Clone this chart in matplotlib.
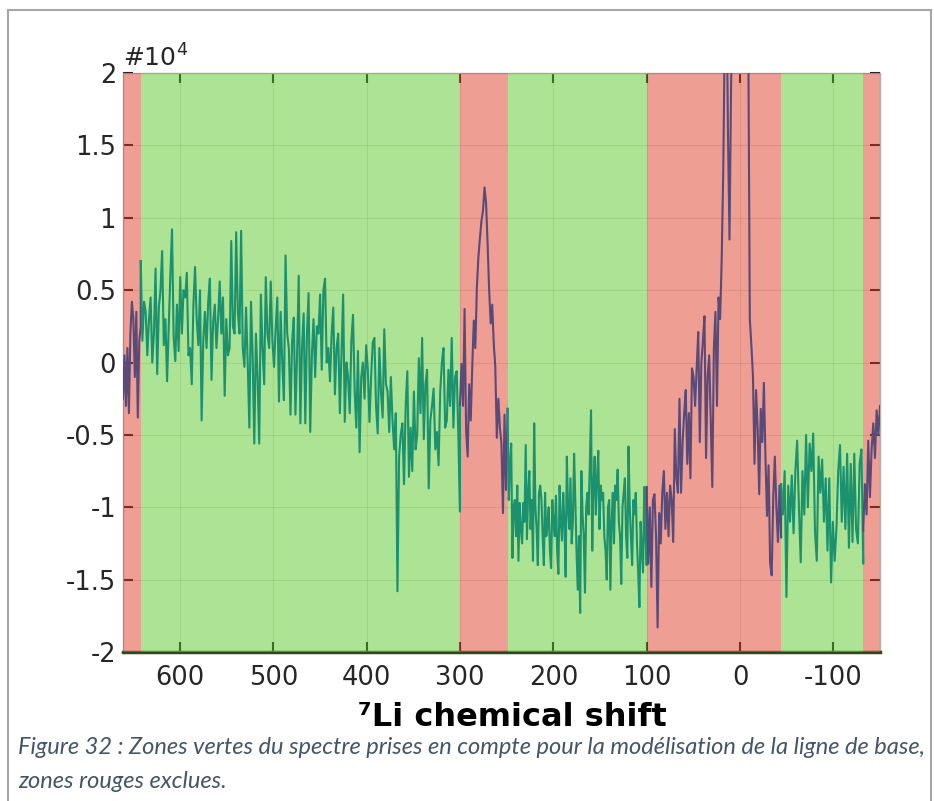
#!/usr/bin/env python3
"""
7Li NMR spectrum with baseline zones (green kept, red excluded)
"""
import numpy as np
import matplotlib
matplotlib.use("Agg")
import matplotlib.pyplot as plt
from matplotlib.patches import Rectangle

plt.rcParams['axes.unicode_minus'] = False

# zone limits (ppm) and their kind
zone_edges = [661, 642, 300, 249, 100, -44, -132, -150]
zone_kinds = ['red', 'green', 'red', 'green', 'red', 'green', 'red']

# intensity (x 10^4) read per zone, evenly spaced inside each zone
seg_a = [-0.25, 0.05, -0.3, 0.1, -0.35, 0.2, 0.42, 0.3, -0.1, 0.35, -0.38, 0.15, 0.25]
seg_b = [0.70, 0.15, 0.42, 0.35, 0.05, 0.3, 0.45, 0.0, 0.2, 0.65, -0.08, 0.38, 0.5, 0.77, 0.12,
         0.3, -0.13, 0.25, 0.6, 0.92, 0.18, 0.01, 0.4, 0.08, 0.59, 0.2, 0.5, 0.45, 0.62, 0.05,
         0.1, -0.15, 0.4, 0.66, 0.3, 0.12, 0.5, -0.4, 0.15, 0.35, 0.1, 0.42, 0.58, -0.12, 0.28,
         0.4, 0.1, 0.3, 0.56, 0.2, 0.45, -0.23, 0.3, 0.05, 0.1, 0.84, 0.25, 0.2, 0.9, 0.35,
         0.2, 0.91, 0.1, -0.03, 0.38, 0.0, -0.45, 0.42, 0.05, -0.56, 0.2, -0.1, -0.56, 0.47, 0.1,
         -0.15, 0.59, 0.2, 0.1, 0.56, 0.15, -0.03, 0.24, 0.45, -0.27, 0.35, 0.0, -0.26, 0.74, 0.2,
         0.1, -0.36, 0.15, 0.31, -0.36, 0.05, 0.6, -0.42, 0.1, 0.34, -0.42, 0.2, 0.48, -0.48, 0.05,
         0.3, -0.1, 0.25, 0.2, 0.47, -0.05, 0.5, 0.58, 0.0, 0.1, -0.13, 0.2, 0.38, -0.22, 0.1,
         0.2, -0.35, 0.05, 0.47, -0.41, 0.0, -0.1, -0.35, 0.15, 0.33, -0.2, -0.45, 0.08, -0.62, -0.1,
         0.0, -0.25, 0.12, -0.05, -0.41, -0.1, 0.14, 0.17, -0.3, -0.49, 0.1, -0.2, -0.38, 0.23, -0.15,
         -0.2, -0.48, -0.1, -0.4, -0.6, -0.35, -1.58, -0.65, -0.5, -0.42, -0.84, -0.3, -0.06, -0.79, -0.45,
         -0.75, -0.2, -0.6, -0.5, 0.03, -0.35, 0.17, -0.53, -0.15, -0.05, -0.87, -0.4, -0.3, -0.18, -0.6,
         -0.48, -0.71, -0.2, 0.0, 0.10, -0.45, -0.4, -0.05, -0.3, 0.17, -0.45, -0.1, -0.06, -0.5, -1.03]
seg_c = [-0.29, -0.01, -0.3, 0.37, -0.47, -0.65, -0.15, -0.40, -0.03, 0.29,
         0.1, 0.52, 0.73, 0.86, 0.98, 1.05, 1.21, 1.1, 0.82, 0.5,
         0.27, 0.4, 0.13, -0.03, -0.52, -0.25, -0.45, -0.56, -1.04, -0.36,
         -0.88, -0.33]
seg_d = [-0.32, -0.95, -0.7, -0.56, -1.35, -1.0, -0.95, -1.2, -0.85, -1.37, -0.97, -1.15, -1.25, -0.97, -1.1,
         -0.57, -1.22, -0.9, -0.75, -1.15, -0.95, -1.37, -0.42, -1.0, -1.15, -1.40, -0.9, -0.85, -0.95, -1.2,
         -1.40, -0.9, -1.2, -1.12, -1.0, -1.3, -1.42, -0.95, -1.1, -1.2, -0.92, -1.3, -1.46, -0.85, -1.1,
         -1.23, -0.9, -1.1, -1.48, -0.65, -1.0, -1.15, -0.8, -1.25, -1.1, -0.63, -0.95, -1.3, -1.57, -1.2,
         -1.73, -0.75, -1.05, -1.2, -1.59, -1.0, -0.9, -1.05, -0.7, -0.33, -1.3, -0.85, -0.65, -1.05, -0.8,
         -0.61, -1.15, -0.85, -0.95, -0.9, -1.2, -1.3, -1.50, -1.0, -0.95, -1.57, -1.1, -0.9, -1.25, -0.85,
         -0.95, -0.74, -1.1, -1.2, -1.53, -1.0, -0.9, -0.8, -1.2, -1.35, -0.58, -1.0, -1.2, -1.4, -0.95,
         -1.05, -0.9, -1.25, -1.45, -1.69, -1.1, -1.3, -1.45, -0.86, -1.2, -1.4]
seg_e = [-0.86, -1.39, -1.0, -1.55, -0.95, -0.91, -1.2, -1.83, -1.04, -1.25,
         -0.9, -0.75, -1.15, -0.9, -1.2, -0.85, -0.95, -1.24, -0.46, -0.8,
         -0.9, -0.25, -0.9, -0.55, -0.35, -0.19, -0.7, -0.35, -0.8, -0.04,
         -0.1, -0.3, -0.04, 0.21, -0.55, 0.0, 0.15, 0.32, -0.66, -0.1,
         0.05, -0.4, -0.86, 0.1, 0.35, -0.3, 0.45, 0.3, 0.71, 1.32,
         2.3, 2.8, 1.6, 0.85, 1.9, 2.6, 3.4, 4.2, 4.8, 5.2, 4.9, 4.4, 3.8, 3.2, 2.7, 2.3,
         0.3, 0.12, -0.09, -0.7, -0.19, -0.45, -0.91, -0.32, -0.55, -0.14,
         -0.65, -1.06, -0.71, -1.39, -1.47, -0.93, -0.65, -1.0, -1.24, -0.85, -1.21]
seg_f = [-0.84, -1.05, -0.75, -1.62, -0.85, -1.1, -0.78, -1.18, -0.75, -0.54,
         -1.0, -1.38, -0.75, -1.05, -0.50, -1.0, -0.56, -0.75, -0.49, -1.17,
         -1.37, -0.65, -0.9, -0.67, -1.1, -0.8, -1.3, -0.8, -1.52, -1.1,
         -1.37, -1.15, -0.75, -0.57, -1.1, -0.72, -1.15, -0.63, -1.28, -0.7,
         -1.24, -0.63, -1.15, -1.25, -0.7, -0.6, -1.39]
seg_g = [-1.16, -0.84, -1.05, -0.54, -0.93, -0.6, -0.42, -0.66, -0.33, -0.5, -0.3]
segments = [seg_a, seg_b, seg_c, seg_d, seg_e, seg_f, seg_g]

xticks = [600, 500, 400, 300, 200, 100, 0, -100]
yticks = [-2, -1.5, -1, -0.5, 0, 0.5, 1, 1.5, 2]
ytick_labels = ['-2', '-1.5', '-1', '-0.5', '0', '0.5', '1', '1.5', '2']

fill_colors = {'red': (0.886, 0.31, 0.237), 'green': (0.42, 0.80, 0.237)}
line_colors = {'red': '#594a78', 'green': '#1b916e'}
fill_alpha = 0.55

fig = plt.figure(figsize=(9.34, 8.01), dpi=100)
ax = fig.add_axes([0.1317, 0.186, 0.8105, 0.7228])

# zone patches drawn over the axis lines so ticks/grid get tinted
for i, kind in enumerate(zone_kinds):
    x0, x1 = zone_edges[i], zone_edges[i + 1]
    ax.add_patch(Rectangle((x1, -2), x0 - x1, 4, facecolor=fill_colors[kind],
                           alpha=fill_alpha, edgecolor='none', zorder=3))

# spectrum, one colour per zone, joined to the next zone's first point
for i, vals in enumerate(segments):
    x = np.linspace(zone_edges[i], zone_edges[i + 1], len(vals))
    y = list(vals)
    if i + 1 < len(segments):
        x = np.append(x, zone_edges[i + 1])
        y.append(segments[i + 1][0])
    ax.plot(x, y, color=line_colors[zone_kinds[i]], linewidth=1.5, zorder=4)

ax.set_xlim(661, -150)
ax.set_ylim(-2, 2)
ax.set_xticks(xticks)
ax.set_yticks(yticks)
ax.set_yticklabels(ytick_labels)
ax.tick_params(axis='both', direction='in', length=7, width=1.5, labelsize=18.5,
               labelcolor='#262626', top=True, right=True)
ax.tick_params(axis='y', pad=5)
ax.tick_params(axis='x', pad=9)
ax.grid(True, color='black', alpha=0.12, linewidth=0.8)
for side in ['top', 'right', 'left']:
    ax.spines[side].set_color('#b0b0b0')
    ax.spines[side].set_linewidth(1.0)
ax.spines['bottom'].set_color('#2e4a1c')
ax.spines['bottom'].set_linewidth(2.5)

ax.text(0.0, 1.003, r'$\#10^{4}$', transform=ax.transAxes, fontsize=18,
        color='#262626', ha='left', va='bottom')
fig.text(0.549, 0.104, '\u2077Li chemical shift', fontsize=23, fontweight='bold',
         ha='center', va='center', color='black')

caption = ("Figure 32 : Zones vertes du spectre prises en compte pour la mod\u00e9lisation de la ligne de base,\n"
           "zones rouges exclues.")
fig.text(0.019, 0.0455, caption, fontsize=17, style='italic', family='Lato',
         color='#44546a', ha='left', va='center', linespacing=1.8)

# page frame from the document screenshot
fig.patches.append(Rectangle((8 / 934, -0.05), (931 - 8) / 934, (801 - 10) / 801 + 0.05,
                             transform=fig.transFigure, fill=False,
                             edgecolor='#a6a6a6', linewidth=1.5))

plt.savefig('out.png', dpi=100)
